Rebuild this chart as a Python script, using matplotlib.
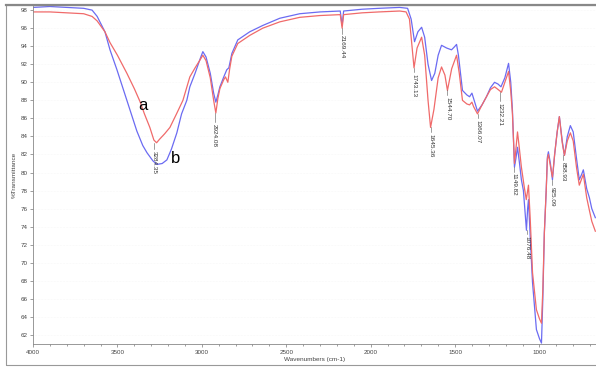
import matplotlib
matplotlib.use("Agg")
import matplotlib.pyplot as plt
from matplotlib.patches import Rectangle

plt.rcParams["font.family"] = ["Liberation Sans", "DejaVu Sans"]

# spectrum b (blue)
wn_b = [4000, 3900, 3800, 3700, 3650, 3620, 3574, 3544, 3503, 3444, 3385, 3350, 3325,
        3290, 3266, 3235, 3207, 3180, 3148, 3120, 3089, 3071, 3040, 3010, 2994, 2975,
        2950, 2930, 2917, 2905, 2893, 2870, 2852, 2840, 2822, 2787, 2716, 2639, 2538,
        2420, 2300, 2180, 2169, 2160, 2050, 1950, 1828, 1781, 1760, 1740, 1720, 1698,
        1680, 1660, 1639, 1620, 1600, 1580, 1550, 1521, 1505, 1491, 1480, 1456, 1430,
        1414, 1400, 1390, 1367, 1340, 1314, 1290, 1266, 1245, 1228, 1205, 1183, 1170,
        1160, 1148, 1140, 1130, 1118, 1107, 1095, 1077, 1070, 1065, 1055, 1041, 1018,
        1000, 988, 980, 971, 960, 953, 947, 935, 923, 910, 895, 882, 865, 852, 835, 817,
        800, 780, 764, 750, 740, 720, 704, 690, 669]
t_b = [98.3, 98.4, 98.3, 98.2, 98.0, 97.3, 95.6, 93.6, 91.4, 88.0, 84.6, 83.0, 82.2,
       81.3, 80.9, 81.0, 81.4, 82.6, 84.4, 86.5, 88.0, 89.5, 91.0, 92.6, 93.4, 92.8,
       91.0, 88.8, 87.8, 88.6, 89.5, 90.6, 91.4, 91.6, 93.2, 94.7, 95.6, 96.3, 97.1,
       97.6, 97.8, 97.9, 96.3, 97.9, 98.1, 98.2, 98.3, 98.2, 97.0, 94.5, 95.6, 96.1,
       95.0, 92.0, 90.2, 91.0, 93.0, 94.1, 93.8, 93.6, 93.9, 94.2, 93.0, 89.1, 88.6,
       88.4, 88.8, 88.2, 86.8, 87.5, 88.4, 89.4, 90.0, 89.8, 89.5, 90.5, 92.1, 90.0,
       86.9, 80.6, 81.5, 82.8, 81.0, 79.2, 78.0, 73.6, 76.0, 77.0, 73.0, 67.8, 62.6,
       61.6, 61.1, 66.0, 73.3, 78.0, 81.7, 82.3, 81.0, 79.2, 82.0, 84.5, 86.2, 83.5,
       81.9, 84.0, 85.2, 84.5, 81.5, 79.2, 79.8, 80.3, 78.2, 77.2, 76.0, 75.0]

# spectrum a (red)
wn_a = [4000, 3900, 3800, 3700, 3650, 3620, 3574, 3544, 3500, 3444, 3400, 3367, 3340,
        3308, 3284, 3268, 3250, 3220, 3189, 3150, 3112, 3071, 3040, 3010, 2994, 2975,
        2950, 2930, 2917, 2905, 2893, 2870, 2860, 2846, 2835, 2822, 2787, 2716, 2639,
        2538, 2420, 2300, 2180, 2169, 2160, 2050, 1950, 1828, 1790, 1770, 1755, 1743,
        1725, 1698, 1680, 1660, 1645, 1625, 1600, 1580, 1560, 1545, 1520, 1491, 1475,
        1456, 1430, 1414, 1400, 1390, 1367, 1340, 1314, 1290, 1266, 1245, 1225, 1205,
        1183, 1170, 1160, 1148, 1140, 1130, 1118, 1107, 1090, 1078, 1065, 1055, 1041,
        1018, 1000, 988, 980, 971, 960, 953, 947, 935, 923, 910, 895, 882, 865, 852, 835,
        817, 800, 780, 764, 750, 740, 720, 704, 690, 669]
t_a = [97.8, 97.8, 97.7, 97.6, 97.3, 96.8, 95.6, 94.4, 93.0, 91.0, 89.3, 87.9, 86.5,
       85.0, 83.6, 83.3, 83.7, 84.3, 85.0, 86.5, 88.0, 90.6, 91.6, 92.5, 93.0, 92.4,
       90.5, 88.0, 86.6, 88.2, 89.3, 90.3, 90.6, 90.0, 91.5, 92.9, 94.3, 95.2, 96.0,
       96.7, 97.2, 97.4, 97.5, 96.0, 97.5, 97.7, 97.8, 97.9, 97.8, 97.0, 94.0, 91.6,
       93.8, 95.0, 93.0, 88.0, 85.0, 87.0, 90.5, 91.7, 90.8, 89.1, 91.5, 93.0, 91.0,
       88.0, 87.6, 87.5, 87.8, 87.3, 86.5, 87.5, 88.4, 89.2, 89.5, 89.2, 88.9, 90.0,
       91.2, 89.0, 86.5, 81.0, 82.5, 84.5, 82.5, 80.6, 78.4, 77.0, 78.6, 75.0, 68.9,
       64.8, 63.8, 63.3, 67.0, 73.3, 78.0, 81.5, 82.0, 80.7, 79.5, 82.0, 84.5, 86.2,
       83.3, 81.9, 83.5, 84.4, 83.5, 80.5, 78.6, 79.3, 79.8, 77.2, 75.8, 74.6, 73.5]

# peak annotations
peak_wn = [3284.35, 2924.08, 2169.44, 1743.13, 1645.36, 1544.70, 1366.07, 1232.21,
           1149.82, 1076.48, 925.09, 858.93]
peak_labels = ["3284.35", "2924.08", "2169.44", "1743.13", "1645.36", "1544.70",
               "1366.07", "1232.21", "1149.82", "1076.48", "925.09", "858.93"]
peak_curve = [83.3, 86.6, 96.0, 91.6, 85.0, 89.1, 86.5, 88.9, 80.6, 73.6, 79.2, 81.9]
label_top = [82.6, 85.6, 95.4, 91.1, 84.5, 88.6, 86.0, 87.9, 80.1, 73.2, 78.6, 81.4]

fig = plt.figure(figsize=(5.96, 3.69), dpi=100)
ax = fig.add_axes([0.0554, 0.0678, 0.9446, 0.917])

ax.plot(wn_b, t_b, color="#6b6bf2", lw=0.9)
ax.plot(wn_a, t_a, color="#f06a6a", lw=0.9)

for w, lab, yc, yt in zip(peak_wn, peak_labels, peak_curve, label_top):
    ax.plot([w, w], [yc, yt], color="#555555", lw=0.4)
    ax.text(w, yt - 0.2, lab, rotation=270, ha="center", va="top",
            fontsize=4.6, color="#333333")

ax.text(3349, 87.4, "a", fontsize=12, ha="center", va="center")
ax.text(3154, 81.6, "b", fontsize=12, ha="center", va="center")

ax.set_xlim(4000, 665)
ax.set_ylim(61.0, 98.5)
ax.set_xticks([4000, 3500, 3000, 2500, 2000, 1500, 1000])
ax.set_xticks(range(700, 4000, 100), minor=True)
ax.set_yticks(range(62, 99, 2))
ax.tick_params(axis="both", which="both", direction="out", length=2, width=0.5,
               colors="#777777", labelsize=4.5, labelcolor="#444444", pad=2)
ax.tick_params(axis="x", which="minor", length=1.5)
ax.grid(True, axis="y", color="#f2f2f2", lw=0.4, ls=":")
for s in ["top", "right"]:
    ax.spines[s].set_visible(False)
for s in ["left", "bottom"]:
    ax.spines[s].set_color("#888888")
    ax.spines[s].set_linewidth(0.6)

ax.set_xlabel("Wavenumbers (cm-1)", fontsize=4.6, color="#444444", labelpad=2)
ax.set_ylabel("%Transmittance", fontsize=4.6, color="#444444", labelpad=3)

# outer frame
fig.patches.append(Rectangle((0.010, 0.011), 1.2, 0.975, transform=fig.transFigure,
                             fill=False, edgecolor="#999999", lw=0.8))
fig.add_artist(plt.Line2D([0.010, 1.0], [0.986, 0.986], transform=fig.transFigure,
                          color="#888888", lw=1.6))

fig.savefig("out.png", dpi=100)
